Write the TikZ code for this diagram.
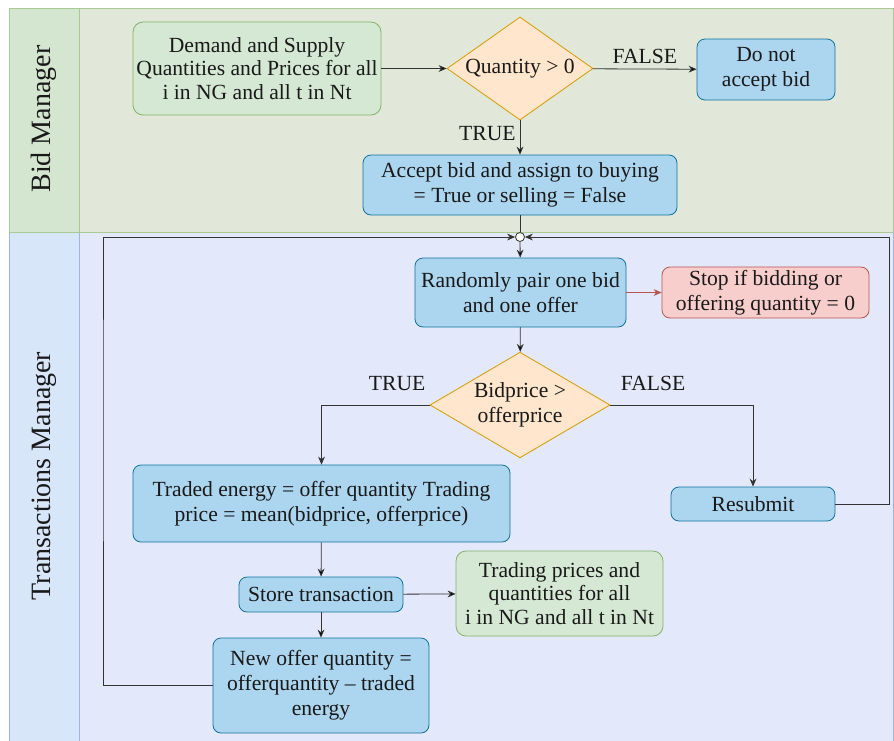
\documentclass[tikz,border=0pt]{standalone}
\usepackage{fontspec}
\setmainfont{Liberation Serif}
\usetikzlibrary{shapes.geometric,arrows.meta,positioning}

\definecolor{bluefill}{HTML}{ACD5EF}
\definecolor{blueline}{HTML}{10739E}
\definecolor{greenfill}{HTML}{D5E8D4}
\definecolor{greenline}{HTML}{82B366}
\definecolor{orangefill}{HTML}{FFE6CC}
\definecolor{orangeline}{HTML}{D79B00}
\definecolor{redfill}{HTML}{F8CECC}
\definecolor{redline}{HTML}{B85450}
\definecolor{bidbody}{HTML}{E1E8DA}
\definecolor{bidhead}{HTML}{D5E6D0}
\definecolor{tmbody}{HTML}{E3E9FA}
\definecolor{tmhead}{HTML}{D8E6FA}
\definecolor{tmline}{HTML}{9DB6E0}

\begin{document}
\begin{tikzpicture}[x=0.5pt, y=-0.5pt, >={Stealth[length=4pt,width=3.4pt]},
  font=\fontsize{10.8}{11.8}\selectfont, text=black!90,
  proc/.style={draw=blueline, fill=bluefill, rounded corners=4pt, align=center, inner sep=0pt},
  data/.style={draw=greenline, fill=greenfill, rounded corners=5pt, align=center, inner sep=0pt},
  stopbox/.style={draw=redline, fill=redfill, rounded corners=4pt, align=center, inner sep=0pt},
  decide/.style={diamond, draw=orangeline, fill=orangefill, align=center, inner sep=0pt, aspect=1.5},
  lane/.style={font=\fontsize{14}{16}\selectfont, rotate=90},
  flow/.style={draw=black!80, ->}]
  \useasboundingbox (0,0) rectangle (894,740);

  % swimlanes
  \filldraw[fill=bidbody, draw=greenline!70] (9,8) rectangle (893,232);
  \filldraw[fill=bidhead, draw=greenline!70] (9,8) rectangle (79,232);
  \filldraw[fill=tmbody, draw=tmline] (9,232) rectangle (893,745);
  \filldraw[fill=tmhead, draw=tmline] (9,232) rectangle (79,745);
  \draw[greenline!70] (9,232) -- (893,232);
  \node[lane] (bidlane) at (44,119) {Bid Manager};
  \node[lane] (tmlane) at (44,476) {Transactions Manager};

  % bid manager
  \node[data, minimum width=124pt, minimum height=46.5pt] (demand) at (257,68.5)
    {Demand and Supply\\Quantities and Prices for all\\i in NG and all t in Nt};
  \node[decide, minimum width=73pt, minimum height=51.5pt] (qty) at (520,68.5) {Quantity \textgreater{} 0};
  \node[proc, minimum width=69pt, minimum height=30.5pt, font=\fontsize{10.8}{12.4}\selectfont] (reject) at (766,69.5) {Do not\\accept bid};
  \node[proc, minimum width=157pt, minimum height=30pt, font=\fontsize{10.8}{12.6}\selectfont] (accept) at (520,185)
    {Accept bid and assign to buying\\= True or selling = False};

  % transactions manager
  \node[circle, draw=black!80, fill=white, inner sep=0pt, minimum size=4.5pt] (junc) at (520,237) {};
  \node[proc, minimum width=105.5pt, minimum height=34.5pt, font=\fontsize{10.8}{12.6}\selectfont] (pair) at (520.5,292.5)
    {Randomly pair one bid\\and one offer};
  \node[stopbox, minimum width=103.5pt, minimum height=25.5pt, font=\fontsize{10.8}{12.6}\selectfont] (stop) at (765.5,292.5)
    {Stop if bidding or\\offering quantity = 0};
  \node[decide, minimum width=90pt, minimum height=52pt, font=\fontsize{10.8}{12.4}\selectfont] (price) at (520,405) {Bidprice \textgreater\\offerprice};
  \node[proc, minimum width=188.5pt, minimum height=38.5pt, font=\fontsize{10.8}{12.6}\selectfont] (traded) at (321.5,503.5)
    {Traded energy = offer quantity Trading\\price = mean(bidprice, offerprice)};
  \node[proc, minimum width=82pt, minimum height=17pt] (resubmit) at (753,504) {Resubmit};
  \node[proc, minimum width=82pt, minimum height=17.5pt] (store) at (321,594.5) {Store transaction};
  \node[data, minimum width=103.5pt, minimum height=42.5pt] (tradeout) at (559.5,593.5)
    {Trading prices and\\quantities for all\\i in NG and all t in Nt};
  \node[proc, minimum width=108pt, minimum height=47.5pt, font=\fontsize{10.8}{12.6}\selectfont] (newoffer) at (321,685.5)
    {New offer quantity =\\offerquantity -- traded\\energy};
  \coordinate (loopL) at (103,400);
  \coordinate (loopR) at (889,400);

  \path[flow]
    (demand) edge (qty)
    (qty) edge node[above, inner sep=2.5pt] {FALSE} (reject)
    (qty) edge node[left, pos=0.37, inner sep=2pt] {TRUE} (accept)
    (junc) edge (pair)
    (pair) edge (price)
    (traded) edge (store)
    (store) edge (newoffer)
    (store) edge (tradeout);
  \draw[black!80] (accept) -- (junc);
  \draw[->, redline] (pair) -- (stop);
  \draw[flow] (price.west) -| node[above, pos=0.15, inner sep=7pt] {TRUE} (traded.north);
  \draw[flow] (price.east) -| node[above, pos=0.15, inner sep=7pt] {FALSE} (resubmit.north);
  \draw[flow] (newoffer.west) -| (loopL) |- (junc.west);
  \draw[flow] (resubmit.east) -| (loopR) |- (junc.east);
\end{tikzpicture}
\end{document}
